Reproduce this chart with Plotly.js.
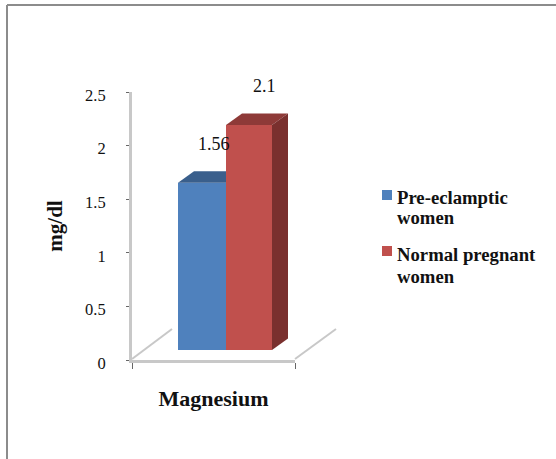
<!DOCTYPE html>
<html><head><meta charset="utf-8">
<script src="https://cdn.plot.ly/plotly-3.0.1.min.js"></script>
<style>html,body{margin:0;padding:0;background:#fff}</style></head>
<body><div id="chart" style="width:556px;height:459px"></div>
<script>
var category = "Magnesium";
var seriesNames = ["Pre-eclamptic women", "Normal pregnant women"];
var legendLines = [["Pre-eclamptic", "women"], ["Normal pregnant", "women"]];
var seriesValues = [1.56, 2.1];
var valueLabels = ["1.56", "2.1"];
var yTicks = [0, 0.5, 1, 1.5, 2, 2.5];
var yTickLabels = ["0", "0.5", "1", "1.5", "2", "2.5"];
var fronts = ["#4f81bd", "#c0504d"];
var tops = ["#3a5f8c", "#8e3a38"];
var sides = ["#335478", "#7a302e"];

var W = 556, H = 459, L = 132, R = 295, T = 92, B = 360;
var ux = 1 / (R - L), uy = 2.5 / (B - T);
var floor = 10 * uy, dX = 16 * ux, dY = 11.5 * uy;
var left = [(178 - 213.5) * ux, (226 - 213.5) * ux];
var width = [48 * ux, 46 * ux];
var px = function (x) { return (x - L) / (R - L); };
var py = function (y) { return (B - y) / (B - T); };
var GR = "#c8c8c8";

var traces = [];
seriesValues.forEach(function (v, i) {
  traces.push({ type: "bar", x: [0], y: [v], base: [floor], offset: left[i], width: width[i],
    name: seriesNames[i], marker: { color: fronts[i], line: { width: 0 } }, hoverinfo: "name+y", showlegend: false });
});
function face(xs, ys, color) {
  return { type: "scatter", mode: "lines", x: xs, y: ys, fill: "toself", fillcolor: color,
    line: { width: 0, color: color }, showlegend: false, hoverinfo: "skip" };
}
var bTop = seriesValues[0] + floor, rTop = seriesValues[1] + floor;
var x0 = left[0], x1 = left[1], x2 = left[1] + width[1];
traces.push(face([x0, x0 + dX, x1, x1, x0], [bTop, bTop + dY, bTop + dY, bTop, bTop], tops[0]));
traces.push(face([x1, x1 + dX, x2 + dX, x2, x1], [rTop, rTop + dY, rTop + dY, rTop, rTop], tops[1]));
traces.push(face([x2, x2 + dX, x2 + dX, x2, x2], [floor, floor + dY, rTop + dY, rTop, floor], sides[1]));

var annotations = seriesValues.map(function (v, i) {
  return { x: left[i] + width[i] / 2 + (i ? 15 : 12) * ux, y: v + floor, xref: "x", yref: "y",
    yshift: 39, text: valueLabels[i], showarrow: false, font: { size: 18, color: "#111" } };
});
var legendY = [[197, 217], [255, 276]];
var shapes = [
  { type: "line", xref: "paper", yref: "paper", x0: px(132), y0: py(359), x1: px(172), y1: py(329), line: { color: GR, width: 2 } },
  { type: "line", xref: "paper", yref: "paper", x0: px(295), y0: py(359), x1: px(336), y1: py(329), line: { color: GR, width: 2 } },
  { type: "line", xref: "paper", yref: "paper", x0: px(7), y0: py(5), x1: px(556), y1: py(5), line: { color: "#8c8c8c", width: 2 } },
  { type: "line", xref: "paper", yref: "paper", x0: px(7), y0: py(5), x1: px(7), y1: py(459), line: { color: "#8c8c8c", width: 2 } }
];
legendLines.forEach(function (lines, i) {
  var sy = [190, 246][i];
  shapes.push({ type: "rect", xref: "paper", yref: "paper", x0: px(382), x1: px(392), y0: py(sy), y1: py(sy + 10),
    fillcolor: fronts[i], line: { width: 0 } });
  lines.forEach(function (t, j) {
    annotations.push({ xref: "paper", yref: "paper", x: px(395), y: py(legendY[i][j]), xanchor: "left", yanchor: "middle",
      text: t, showarrow: false, font: { size: 18.7, color: "#111", weight: "bold" } });
  });
});

var layout = {
  width: W, height: H, paper_bgcolor: "#fff", plot_bgcolor: "rgba(0,0,0,0)",
  margin: { l: L, r: W - R, t: T, b: H - B, pad: 0 },
  font: { family: "Liberation Serif, Times New Roman, serif", color: "#111", size: 16 },
  barmode: "overlay", showlegend: false,
  xaxis: { range: [-0.5, 0.5], tickvals: [-0.5, 0.5], showticklabels: false, ticks: "outside", ticklen: 6, tickcolor: "#666", tickwidth: 1,
    showline: true, linecolor: GR, linewidth: 3, showgrid: false, zeroline: false, fixedrange: true,
    title: { text: category, standoff: 23, font: { size: 22, weight: "bold", color: "#111" } } },
  yaxis: { range: [0, 2.5], tickvals: yTicks, ticktext: yTickLabels, ticks: "outside", ticklen: 3, tickcolor: "#666", tickwidth: 1,
    ticklabelstandoff: 17, ticklabelshift: 3, showline: true, linecolor: GR, linewidth: 3, showgrid: false, zeroline: false, fixedrange: true,
    tickfont: { size: 16.5 },
    title: { text: "mg/dl", standoff: 17, font: { size: 21, weight: "bold", color: "#111" } } },
  annotations: annotations,
  shapes: shapes
};
Plotly.newPlot("chart", traces, layout, { displayModeBar: false, responsive: false });
</script></body></html>
